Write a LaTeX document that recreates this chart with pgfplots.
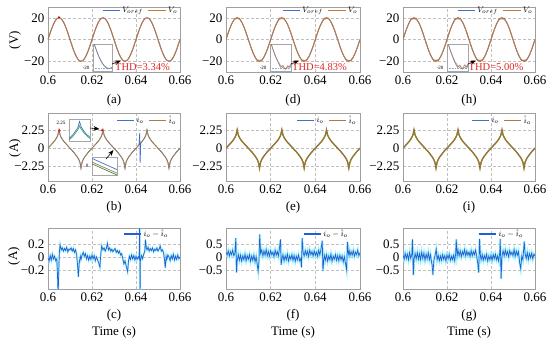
\documentclass[border=0pt]{standalone}
\usepackage{fontspec}
\setmainfont{Liberation Serif}
\usepackage{pgfplots}
\pgfplotsset{compat=1.18}
\usepackage{pgfplotstable}
\usetikzlibrary{arrows.meta}
\definecolor{cref}{RGB}{70,110,205}
\definecolor{cvo}{RGB}{198,120,55}
\definecolor{cerr}{RGB}{35,95,212}
\definecolor{ccyan}{RGB}{165,240,250}
\definecolor{cthd}{RGB}{225,40,40}
\definecolor{cioh}{RGB}{170,128,66}
\definecolor{ciohd}{RGB}{150,122,45}
\definecolor{cgreen}{RGB}{60,170,90}

\pgfplotstableread{
t vref vod voh
0.6000 0 0 0
0.6005 3.13 3.13 3.13
0.6010 6.18 6.18 6.18
0.6015 9.08 9.08 9.08
0.6020 11.76 11.76 11.76
0.6025 14.14 14.14 14.14
0.6030 16.18 16.18 16.18
0.6035 17.82 17.9 18.3
0.6040 19.02 19.6 19.5
0.6045 19.75 19.0 18.8
0.6050 20 20.3 20.1
0.6055 19.75 19.1 18.7
0.6060 19.02 19.6 19.6
0.6065 17.82 17.7 17.5
0.6070 16.18 16.18 16.18
0.6075 14.14 14.14 14.14
0.6080 11.76 11.76 11.76
0.6085 9.08 9.08 9.08
0.6090 6.18 6.18 6.18
0.6095 3.13 3.13 3.13
0.6100 0 0 0
0.6105 -3.13 -3.13 -3.13
0.6110 -6.18 -6.18 -6.18
0.6115 -9.08 -9.08 -9.08
0.6120 -11.76 -11.76 -11.76
0.6125 -14.14 -14.14 -14.14
0.6130 -16.18 -16.18 -16.18
0.6135 -17.82 -17.9 -18.2
0.6140 -19.02 -19.6 -19.6
0.6145 -19.75 -19.0 -18.9
0.6150 -20 -20.3 -20.2
0.6155 -19.75 -19.1 -18.8
0.6160 -19.02 -19.6 -19.7
0.6165 -17.82 -17.7 -17.6
0.6170 -16.18 -16.18 -16.18
0.6175 -14.14 -14.14 -14.14
0.6180 -11.76 -11.76 -11.76
0.6185 -9.08 -9.08 -9.08
0.6190 -6.18 -6.18 -6.18
0.6195 -3.13 -3.13 -3.13
0.6200 0 0 0
0.6205 3.13 3.13 3.13
0.6210 6.18 6.18 6.18
0.6215 9.08 9.08 9.08
0.6220 11.76 11.76 11.76
0.6225 14.14 14.14 14.14
0.6230 16.18 16.18 16.18
0.6235 17.82 17.9 18.3
0.6240 19.02 19.6 19.5
0.6245 19.75 19.0 18.8
0.6250 20 20.3 20.1
0.6255 19.75 19.1 18.7
0.6260 19.02 19.6 19.6
0.6265 17.82 17.7 17.5
0.6270 16.18 16.18 16.18
0.6275 14.14 14.14 14.14
0.6280 11.76 11.76 11.76
0.6285 9.08 9.08 9.08
0.6290 6.18 6.18 6.18
0.6295 3.13 3.13 3.13
0.6300 0 0 0
0.6305 -3.13 -3.13 -3.13
0.6310 -6.18 -6.18 -6.18
0.6315 -9.08 -9.08 -9.08
0.6320 -11.76 -11.76 -11.76
0.6325 -14.14 -14.14 -14.14
0.6330 -16.18 -16.18 -16.18
0.6335 -17.82 -17.9 -18.2
0.6340 -19.02 -19.6 -19.6
0.6345 -19.75 -19.0 -18.9
0.6350 -20 -20.3 -20.2
0.6355 -19.75 -19.1 -18.8
0.6360 -19.02 -19.6 -19.7
0.6365 -17.82 -17.7 -17.6
0.6370 -16.18 -16.18 -16.18
0.6375 -14.14 -14.14 -14.14
0.6380 -11.76 -11.76 -11.76
0.6385 -9.08 -9.08 -9.08
0.6390 -6.18 -6.18 -6.18
0.6395 -3.13 -3.13 -3.13
0.6400 0 0 0
0.6405 3.13 3.13 3.13
0.6410 6.18 6.18 6.18
0.6415 9.08 9.08 9.08
0.6420 11.76 11.76 11.76
0.6425 14.14 14.14 14.14
0.6430 16.18 16.18 16.18
0.6435 17.82 17.9 18.3
0.6440 19.02 19.6 19.5
0.6445 19.75 19.0 18.8
0.6450 20 20.3 20.1
0.6455 19.75 19.1 18.7
0.6460 19.02 19.6 19.6
0.6465 17.82 17.7 17.5
0.6470 16.18 16.18 16.18
0.6475 14.14 14.14 14.14
0.6480 11.76 11.76 11.76
0.6485 9.08 9.08 9.08
0.6490 6.18 6.18 6.18
0.6495 3.13 3.13 3.13
0.6500 0 0 0
0.6505 -3.13 -3.13 -3.13
0.6510 -6.18 -6.18 -6.18
0.6515 -9.08 -9.08 -9.08
0.6520 -11.76 -11.76 -11.76
0.6525 -14.14 -14.14 -14.14
0.6530 -16.18 -16.18 -16.18
0.6535 -17.82 -17.9 -18.2
0.6540 -19.02 -19.6 -19.6
0.6545 -19.75 -19.0 -18.9
0.6550 -20 -20.3 -20.2
0.6555 -19.75 -19.1 -18.8
0.6560 -19.02 -19.6 -19.7
0.6565 -17.82 -17.7 -17.6
0.6570 -16.18 -16.18 -16.18
0.6575 -14.14 -14.14 -14.14
0.6580 -11.76 -11.76 -11.76
0.6585 -9.08 -9.08 -9.08
0.6590 -6.18 -6.18 -6.18
0.6595 -3.13 -3.13 -3.13
0.6600 0 0 0
}\sine

\pgfplotstableread{
t i
0.6000 0.00
0.6005 0.15
0.6010 0.30
0.6015 0.45
0.6020 0.60
0.6025 0.75
0.6030 0.92
0.6035 1.12
0.6040 1.35
0.6045 1.65
0.6050 2.30
0.6055 1.65
0.6060 1.35
0.6065 1.12
0.6070 0.92
0.6075 0.75
0.6080 0.60
0.6085 0.45
0.6090 0.30
0.6095 0.15
0.6100 0.00
0.6105 -0.15
0.6110 -0.30
0.6115 -0.45
0.6120 -0.62
0.6125 -0.80
0.6130 -0.98
0.6135 -1.18
0.6140 -1.42
0.6145 -1.75
0.6150 -2.50
0.6155 -1.75
0.6160 -1.42
0.6165 -1.18
0.6170 -0.98
0.6175 -0.80
0.6180 -0.62
0.6185 -0.45
0.6190 -0.30
0.6195 -0.15
0.6200 0.00
0.6205 0.15
0.6210 0.30
0.6215 0.45
0.6220 0.60
0.6225 0.75
0.6230 0.92
0.6235 1.12
0.6240 1.35
0.6245 1.65
0.6250 2.30
0.6255 1.65
0.6260 1.35
0.6265 1.12
0.6270 0.92
0.6275 0.75
0.6280 0.60
0.6285 0.45
0.6290 0.30
0.6295 0.15
0.6300 0.00
0.6305 -0.15
0.6310 -0.30
0.6315 -0.45
0.6320 -0.62
0.6325 -0.80
0.6330 -0.98
0.6335 -1.18
0.6340 -1.42
0.6345 -1.75
0.6350 -2.50
0.6355 -1.75
0.6360 -1.42
0.6365 -1.18
0.6370 -0.98
0.6375 -0.80
0.6380 -0.62
0.6385 -0.45
0.6390 -0.30
0.6395 -0.15
0.6400 0.00
0.6405 0.15
0.6410 0.30
0.6415 0.45
0.6420 0.60
0.6425 0.75
0.6430 0.92
0.6435 1.12
0.6440 1.35
0.6445 1.65
0.6450 2.30
0.6455 1.65
0.6460 1.35
0.6465 1.12
0.6470 0.92
0.6475 0.75
0.6480 0.60
0.6485 0.45
0.6490 0.30
0.6495 0.15
0.6500 0.00
0.6505 -0.15
0.6510 -0.30
0.6515 -0.45
0.6520 -0.62
0.6525 -0.80
0.6530 -0.98
0.6535 -1.18
0.6540 -1.42
0.6545 -1.75
0.6550 -2.50
0.6555 -1.75
0.6560 -1.42
0.6565 -1.18
0.6570 -0.98
0.6575 -0.80
0.6580 -0.62
0.6585 -0.45
0.6590 -0.30
0.6595 -0.15
0.6600 0.00
}\cur

\pgfplotstableread{
t e
0.6000 0.00
0.6005 -0.06
0.6010 0.03
0.6015 -0.04
0.6020 0.05
0.6025 -0.02
0.6030 0.02
0.6035 -0.05
0.6040 -0.02
0.6043 -0.25
0.6046 -0.62
0.6049 -0.20
0.6052 0.10
0.6055 0.20
0.6060 0.12
0.6065 0.15
0.6070 0.10
0.6075 0.14
0.6080 0.11
0.6085 0.16
0.6090 0.09
0.6095 0.13
0.6100 0.12
0.6105 0.15
0.6110 0.10
0.6115 0.14
0.6120 0.08
0.6125 0.12
0.6130 0.05
0.6134 -0.10
0.6138 -0.30
0.6142 -0.08
0.6147 0.02
0.6150 -0.03
0.6155 0.04
0.6160 0.08
0.6165 0.02
0.6170 0.06
0.6175 -0.02
0.6180 0.03
0.6185 -0.04
0.6190 0.02
0.6195 -0.03
0.6200 0.04
0.6205 -0.02
0.6210 0.03
0.6215 -0.05
0.6220 0.01
0.6225 -0.03
0.6230 -0.08
0.6236 -0.15
0.6240 0.05
0.6244 0.18
0.6250 0.12
0.6255 0.15
0.6260 0.10
0.6265 0.14
0.6270 0.22
0.6275 0.12
0.6280 0.15
0.6285 0.10
0.6290 0.13
0.6295 0.09
0.6300 0.12
0.6305 0.14
0.6310 0.08
0.6315 0.11
0.6320 0.07
0.6325 0.10
0.6330 0.04
0.6335 0.06
0.6340 -0.02
0.6345 -0.10
0.6350 -0.05
0.6356 -0.14
0.6362 -0.22
0.6366 -0.05
0.6370 0.02
0.6375 -0.03
0.6380 0.04
0.6385 -0.02
0.6390 0.03
0.6395 -0.04
0.6400 0.02
0.6405 -0.03
0.6410 0.01
0.6415 -0.02
0.6417 0.80
0.6418 -0.80
0.6420 -0.05
0.6425 0.03
0.6430 -0.02
0.6435 0.05
0.6440 0.10
0.6443 0.28
0.6447 0.15
0.6450 0.12
0.6455 0.16
0.6460 0.10
0.6465 0.14
0.6470 0.11
0.6475 0.15
0.6480 0.09
0.6485 0.13
0.6490 0.11
0.6495 0.15
0.6500 0.10
0.6505 0.13
0.6510 0.18
0.6515 0.10
0.6520 0.12
0.6525 0.08
0.6530 -0.05
0.6533 -0.16
0.6537 0.02
0.6540 -0.03
0.6545 0.04
0.6550 0.01
0.6555 -0.05
0.6560 0.03
0.6565 -0.02
0.6570 0.05
0.6575 -0.04
0.6580 0.02
0.6585 -0.03
0.6590 0.04
0.6595 -0.02
0.6600 0.01
}\errc

\pgfplotstableread{
t e
0.6000 0.20
0.6005 0.08
0.6010 0.25
0.6015 0.05
0.6020 0.22
0.6025 0.10
0.6030 0.28
0.6035 0.06
0.6040 0.15
0.6044 0.75
0.6047 -0.60
0.6050 -0.15
0.6055 0.10
0.6060 -0.12
0.6065 0.08
0.6070 -0.15
0.6075 0.05
0.6080 -0.10
0.6085 0.12
0.6090 -0.14
0.6095 0.06
0.6100 -0.08
0.6105 0.10
0.6110 -0.16
0.6115 0.04
0.6120 -0.12
0.6125 0.08
0.6130 -0.18
0.6135 0.02
0.6140 -0.30
0.6144 -0.55
0.6148 -0.10
0.6151 0.90
0.6155 0.15
0.6160 0.28
0.6165 0.05
0.6170 0.25
0.6175 0.08
0.6180 0.30
0.6185 0.06
0.6190 0.22
0.6195 0.04
0.6200 0.26
0.6205 0.10
0.6210 0.20
0.6215 0.02
0.6220 0.28
0.6225 0.08
0.6230 0.22
0.6235 0.05
0.6240 0.40
0.6244 0.70
0.6247 -0.30
0.6250 -0.10
0.6255 0.10
0.6260 -0.14
0.6265 0.06
0.6270 -0.10
0.6275 0.12
0.6280 -0.15
0.6285 0.05
0.6290 -0.08
0.6295 0.10
0.6300 -0.12
0.6305 0.07
0.6310 -0.16
0.6315 0.04
0.6320 -0.10
0.6325 0.09
0.6330 -0.14
0.6335 -0.05
0.6338 -0.40
0.6341 0.75
0.6345 0.20
0.6350 0.05
0.6355 0.26
0.6360 0.08
0.6365 0.24
0.6370 0.03
0.6375 0.28
0.6380 0.10
0.6385 0.22
0.6390 0.05
0.6395 0.25
0.6400 0.07
0.6405 0.20
0.6410 0.04
0.6415 0.27
0.6420 0.09
0.6425 0.30
0.6431 0.65
0.6434 -0.55
0.6438 -0.10
0.6440 0.08
0.6445 -0.12
0.6450 0.10
0.6455 -0.15
0.6460 0.05
0.6465 -0.10
0.6470 0.12
0.6475 -0.16
0.6480 0.04
0.6485 -0.08
0.6490 0.10
0.6495 -0.12
0.6500 0.06
0.6505 -0.14
0.6510 0.08
0.6515 -0.10
0.6520 0.05
0.6525 -0.18
0.6530 0.02
0.6535 -0.25
0.6540 -0.50
0.6544 0.60
0.6548 0.12
0.6552 0.25
0.6555 0.05
0.6560 0.22
0.6565 0.08
0.6570 0.26
0.6575 0.04
0.6580 0.20
0.6585 0.10
0.6590 0.28
0.6595 0.06
0.6600 0.18
}\errf

\pgfplotstableread{
t e
0.6000 0.10
0.6005 -0.08
0.6010 0.15
0.6015 -0.05
0.6020 0.12
0.6025 -0.10
0.6030 0.18
0.6035 -0.04
0.6040 0.10
0.6043 0.70
0.6047 -0.70
0.6050 -0.10
0.6055 0.15
0.6060 -0.06
0.6065 0.18
0.6070 -0.08
0.6075 0.14
0.6080 -0.10
0.6085 0.20
0.6090 -0.05
0.6095 0.16
0.6100 -0.12
0.6105 0.12
0.6110 -0.06
0.6115 0.18
0.6120 -0.10
0.6125 0.10
0.6130 -0.20
0.6133 -0.35
0.6136 -0.70
0.6140 -0.15
0.6145 0.05
0.6151 0.32
0.6155 -0.10
0.6160 0.08
0.6165 -0.14
0.6170 0.05
0.6175 -0.12
0.6180 0.10
0.6185 -0.08
0.6190 0.06
0.6195 -0.15
0.6200 0.09
0.6205 -0.06
0.6210 0.12
0.6215 -0.12
0.6220 0.04
0.6225 -0.10
0.6230 0.08
0.6235 -0.14
0.6239 0.10
0.6242 0.70
0.6246 0.05
0.6250 0.28
0.6255 0.06
0.6260 0.25
0.6265 0.02
0.6270 0.22
0.6275 0.10
0.6280 0.30
0.6285 0.05
0.6290 0.24
0.6295 0.08
0.6300 0.20
0.6305 0.03
0.6310 0.26
0.6315 0.06
0.6320 0.22
0.6325 0.10
0.6330 0.28
0.6335 0.04
0.6340 -0.25
0.6344 -0.60
0.6348 0.72
0.6352 0.05
0.6355 -0.10
0.6360 0.10
0.6365 -0.12
0.6370 0.06
0.6375 -0.08
0.6380 0.12
0.6385 -0.15
0.6390 0.05
0.6395 -0.10
0.6400 0.08
0.6405 -0.12
0.6410 0.10
0.6415 -0.06
0.6420 0.12
0.6425 -0.10
0.6430 0.05
0.6435 -0.15
0.6440 0.20
0.6442 0.72
0.6446 -0.85
0.6450 0.05
0.6455 0.25
0.6460 0.05
0.6465 0.28
0.6470 0.08
0.6475 0.22
0.6480 0.02
0.6485 0.26
0.6490 0.10
0.6495 0.20
0.6500 0.06
0.6505 0.30
0.6510 0.04
0.6515 0.24
0.6520 0.08
0.6525 0.22
0.6530 -0.20
0.6535 -0.45
0.6540 0.05
0.6545 -0.10
0.6551 0.62
0.6555 0.15
0.6560 -0.05
0.6565 0.18
0.6570 -0.08
0.6575 0.14
0.6580 -0.02
0.6585 0.16
0.6590 -0.06
0.6595 0.12
0.6600 0.05
}\errg

\pgfplotsset{
  panel/.style={
    scale only axis, height=#1, width=132pt, anchor=south west,
    xmin=0.6, xmax=0.66,
    xtick={0.6,0.62,0.64,0.66}, xticklabels={0.6,0.62,0.64,0.66},
    grid=major,
    major grid style={gray!50, dash pattern=on 3pt off 2pt, line width=0.45pt},
    major tick length=0pt,
    axis line style={gray!75, line width=0.6pt},
    tick label style={font=\fontsize{13}{15}\selectfont},
    legend cell align=left,
    legend style={draw=none, fill=none, font=\fontsize{8.5}{10}\selectfont,
      legend columns=-1, inner sep=0.5pt,
      /tikz/every even column/.append style={column sep=3pt}},
  },
  vrow/.style={panel=65pt, ymin=-30, ymax=30, ytick={-20,0,20}, yticklabels={−20,0,20},
    legend style={at={(1,1.04)}, anchor=north east}},
  irow/.style={panel=68pt, ymin=-4.1, ymax=4.4, ytick={-2.25,0,2.25}, yticklabels={−2.25,0,2.25},
    legend style={at={(0.99,0.99)}, anchor=north east}},
  erow/.style={panel=61pt, legend style={at={(0.93,1.02)}, anchor=north east}},
  inset/.style={scale only axis, anchor=south west, ticks=none,
    axis line style={gray!70, line width=0.6pt}, axis background/.style={fill=white}},
}

\begin{document}
\begin{tikzpicture}
\useasboundingbox (0,0) rectangle (550pt,-343pt);

% ---------------- Row 1 ----------------
\begin{axis}[vrow, at={(48pt,-72pt)}]
\addlegendimage{color=cref, line width=1.2pt}
\addlegendentry{$V_{oref}$}
\addlegendimage{color=cvo, line width=1.2pt}
\addlegendentry{$V_o$}
\addplot[color=cref, line width=0.9pt, forget plot] table[x=t,y=vref]{\sine};
\addplot[color=cvo, line width=0.9pt, forget plot] table[x=t,y=vref]{\sine};
\addplot[red!70!black, only marks, mark=triangle*, mark size=0.9pt, forget plot] coordinates {(0.605,20.5)};
\end{axis}
\begin{axis}[inset, at={(93pt,-71pt)}, width=19pt, height=27pt, xmin=0.6318, xmax=0.6356, ymin=-20.8, ymax=-12]
\addplot[cref!60, line width=0.6pt, densely dotted, forget plot] coordinates {(0.6318,-20)(0.6356,-20)};
\addplot[cref!70, line width=0.7pt, smooth] table[x=t,y=vref]{\sine};
\addplot[gray, line width=0.6pt, smooth] table[x=t,y=vref]{\sine};
\end{axis}
\node[font=\fontsize{5}{6}\selectfont, anchor=east] at (93pt,-68pt) {-20};
\draw[-{Stealth[length=6pt,width=4.5pt]}, line width=0.6pt] (112pt,-64pt) -- (121pt,-60.5pt);
\node[text=cthd, font=\fontsize{10.5}{12}\selectfont] at (142.5pt,-67.5pt) {THD=3.34\%};

\begin{axis}[vrow, at={(226pt,-72pt)}, width=134pt]
\addlegendimage{color=cref, line width=1.2pt}
\addlegendentry{$V_{oref}$}
\addlegendimage{color=cvo, line width=1.2pt}
\addlegendentry{$V_o$}
\addplot[color=cref, line width=0.9pt, forget plot] table[x=t,y=vref]{\sine};
\addplot[color=cvo, line width=0.9pt, forget plot] table[x=t,y=vod]{\sine};
\end{axis}
\begin{axis}[inset, at={(270pt,-71pt)}, width=21pt, height=27pt, xmin=0.6318, xmax=0.6362, ymin=-20.8, ymax=-12]
\addplot[cref!60, line width=0.6pt, densely dotted, forget plot] coordinates {(0.6318,-20)(0.6362,-20)};
\addplot[cref!70, line width=0.7pt] table[x=t,y=vref]{\sine};
\addplot[cvo!60!gray, line width=0.6pt] table[x=t,y=vod]{\sine};
\end{axis}
\node[font=\fontsize{5}{6}\selectfont, anchor=east] at (270pt,-68pt) {-20};
\draw[-{Stealth[length=6pt,width=4.5pt]}, line width=0.6pt] (291pt,-64pt) -- (299pt,-60.5pt);
\node[text=cthd, font=\fontsize{10.5}{12}\selectfont] at (319.5pt,-67.5pt) {THD=4.83\%};

\begin{axis}[vrow, at={(403pt,-72pt)}]
\addlegendimage{color=cref, line width=1.2pt}
\addlegendentry{$V_{oref}$}
\addlegendimage{color=cvo, line width=1.2pt}
\addlegendentry{$V_o$}
\addplot[color=cref, line width=0.9pt, forget plot] table[x=t,y=vref]{\sine};
\addplot[color=cvo, line width=0.9pt, forget plot] table[x=t,y=voh]{\sine};
\end{axis}
\begin{axis}[inset, at={(447pt,-71pt)}, width=21pt, height=27pt, xmin=0.6318, xmax=0.6362, ymin=-20.8, ymax=-12]
\addplot[cref!60, line width=0.6pt, densely dotted, forget plot] coordinates {(0.6318,-20)(0.6362,-20)};
\addplot[cref!70, line width=0.7pt] table[x=t,y=vref]{\sine};
\addplot[cvo!60!gray, line width=0.6pt] table[x=t,y=voh]{\sine};
\end{axis}
\node[font=\fontsize{5}{6}\selectfont, anchor=east] at (447pt,-68pt) {-20};
\draw[-{Stealth[length=6pt,width=4.5pt]}, line width=0.6pt] (468pt,-64pt) -- (476pt,-60.5pt);
\node[text=cthd, font=\fontsize{10.5}{12}\selectfont] at (496pt,-67.5pt) {THD=5.00\%};

% ---------------- Row 2 ----------------
\begin{axis}[irow, at={(48pt,-181pt)}]
\addlegendimage{color=cref, line width=1.2pt}
\addlegendentry{$i_o$}
\addlegendimage{color=cioh, line width=1.2pt}
\addlegendentry{$\hat{i}_o$}
\addplot[color=cref, line width=0.8pt, forget plot] table[x=t,y=i]{\cur};
\addplot[color=cioh, line width=0.8pt, forget plot] table[x=t,y=i]{\cur};
\addplot[color=cref, line width=0.8pt, forget plot] coordinates {(0.6414,0.42)(0.6417,1.9)(0.6419,-1.8)(0.6421,0.6)};
\addplot[red, only marks, mark=triangle*, mark size=1.1pt, forget plot] coordinates {(0.6052,2.2)(0.6246,2.25)};
\end{axis}
\begin{axis}[inset, at={(69pt,-141pt)}, width=21pt, height=22pt, xmin=0.6238, xmax=0.6262, ymin=1.65, ymax=2.45]
\addplot[cgreen, line width=0.7pt] coordinates {(0.6238,1.70)(0.6242,1.80)(0.6245,1.92)(0.6248,2.05)(0.6250,2.20)(0.6252,2.08)(0.6255,1.95)(0.6258,1.85)(0.6262,1.74)};
\addplot[cref, line width=0.7pt] coordinates {(0.6238,1.74)(0.6242,1.86)(0.6245,1.99)(0.6248,2.13)(0.6250,2.36)(0.6252,2.16)(0.6255,2.01)(0.6258,1.89)(0.6262,1.79)};
\end{axis}
\node[font=\fontsize{5}{6}\selectfont, anchor=east] at (69pt,-123pt) {2.25};
\draw[-{Stealth[length=6pt,width=4.5pt]}, line width=0.6pt] (90pt,-128pt) -- (99.5pt,-129pt);
\begin{axis}[inset, at={(92pt,-175pt)}, width=25pt, height=18pt, xmin=0, xmax=1, ymin=0, ymax=1]
\addplot[cref, line width=0.7pt] coordinates {(0,0.92)(1,0.30)};
\addplot[cioh, line width=0.7pt] coordinates {(0,0.72)(1,0.10)};
\addplot[cgreen!70!black, line width=0.6pt] coordinates {(0,0.62)(1,0.00)};
\end{axis}
\node[font=\fontsize{5}{6}\selectfont, anchor=east] at (92pt,-166pt) {0};
\draw[-{Stealth[length=6pt,width=4.5pt]}, line width=0.6pt] (106pt,-159pt) -- (113.5pt,-150pt);

\begin{axis}[irow, at={(226pt,-181pt)}, width=134pt]
\addlegendimage{color=cref, line width=1.2pt}
\addlegendentry{$i_o$}
\addlegendimage{color=cioh, line width=1.2pt}
\addlegendentry{$\hat{i}_o$}
\addplot[color=cref, line width=0.8pt, forget plot] table[x=t,y=i]{\cur};
\addplot[color=ciohd, line width=1.4pt, forget plot] table[x=t,y=i]{\cur};
\end{axis}

\begin{axis}[irow, at={(403pt,-181pt)}]
\addlegendimage{color=cref, line width=1.2pt}
\addlegendentry{$i_o$}
\addlegendimage{color=cioh, line width=1.2pt}
\addlegendentry{$\hat{i}_o$}
\addplot[color=cref, line width=0.8pt, forget plot] table[x=t,y=i]{\cur};
\addplot[color=ciohd, line width=1.4pt, forget plot] table[x=t,y=i]{\cur};
\end{axis}

% ---------------- Row 3 ----------------
\begin{axis}[erow, at={(48pt,-289pt)}, ymin=-0.49, ymax=0.46, ytick={-0.2,0,0.2}, yticklabels={−0.2,0,0.2}]
\addlegendimage{color=cerr, line width=1.2pt}
\addlegendentry{$i_o-\hat{i}_o$}
\addplot[ccyan, line width=1.8pt, forget plot] table[x=t,y=e]{\errc};
\addplot[color=cerr, line width=0.7pt, forget plot] table[x=t,y=e]{\errc};
\end{axis}

\begin{axis}[erow, at={(226pt,-289pt)}, width=134pt, ymin=-1.25, ymax=1.15, ytick={-0.5,0,0.5}, yticklabels={−0.5,0,0.5}]
\addlegendimage{color=cerr, line width=1.2pt}
\addlegendentry{$i_o-\hat{i}_o$}
\addplot[ccyan, line width=2.2pt, forget plot] table[x=t,y=e]{\errf};
\addplot[color=cerr, line width=0.7pt, forget plot] table[x=t,y=e]{\errf};
\end{axis}

\begin{axis}[erow, at={(403pt,-289pt)}, ymin=-1.25, ymax=1.15, ytick={-0.5,0,0.5}, yticklabels={−0.5,0,0.5}]
\addlegendimage{color=cerr, line width=1.2pt}
\addlegendentry{$i_o-\hat{i}_o$}
\addplot[ccyan, line width=2.2pt, forget plot] table[x=t,y=e]{\errg};
\addplot[color=cerr, line width=0.7pt, forget plot] table[x=t,y=e]{\errg};
\end{axis}

% ---------------- labels ----------------
\begin{scope}[font=\fontsize{13}{15}\selectfont]
\node[rotate=90] at (15pt,-40pt) {(V)};
\node[rotate=90] at (15pt,-148pt) {(A)};
\node[rotate=90] at (14pt,-256pt) {(A)};
\node at (114pt,-100pt) {(a)};
\node at (293pt,-100pt) {(d)};
\node at (469pt,-100pt) {(h)};
\node at (114pt,-207pt) {(b)};
\node at (293pt,-207pt) {(e)};
\node at (469pt,-207pt) {(i)};
\node at (114pt,-315pt) {(c)};
\node at (293pt,-315pt) {(f)};
\node at (469pt,-315pt) {(g)};
\node at (114pt,-332pt) {Time (s)};
\node at (293pt,-332pt) {Time (s)};
\node at (469pt,-332pt) {Time (s)};
\end{scope}
\end{tikzpicture}
\end{document}
